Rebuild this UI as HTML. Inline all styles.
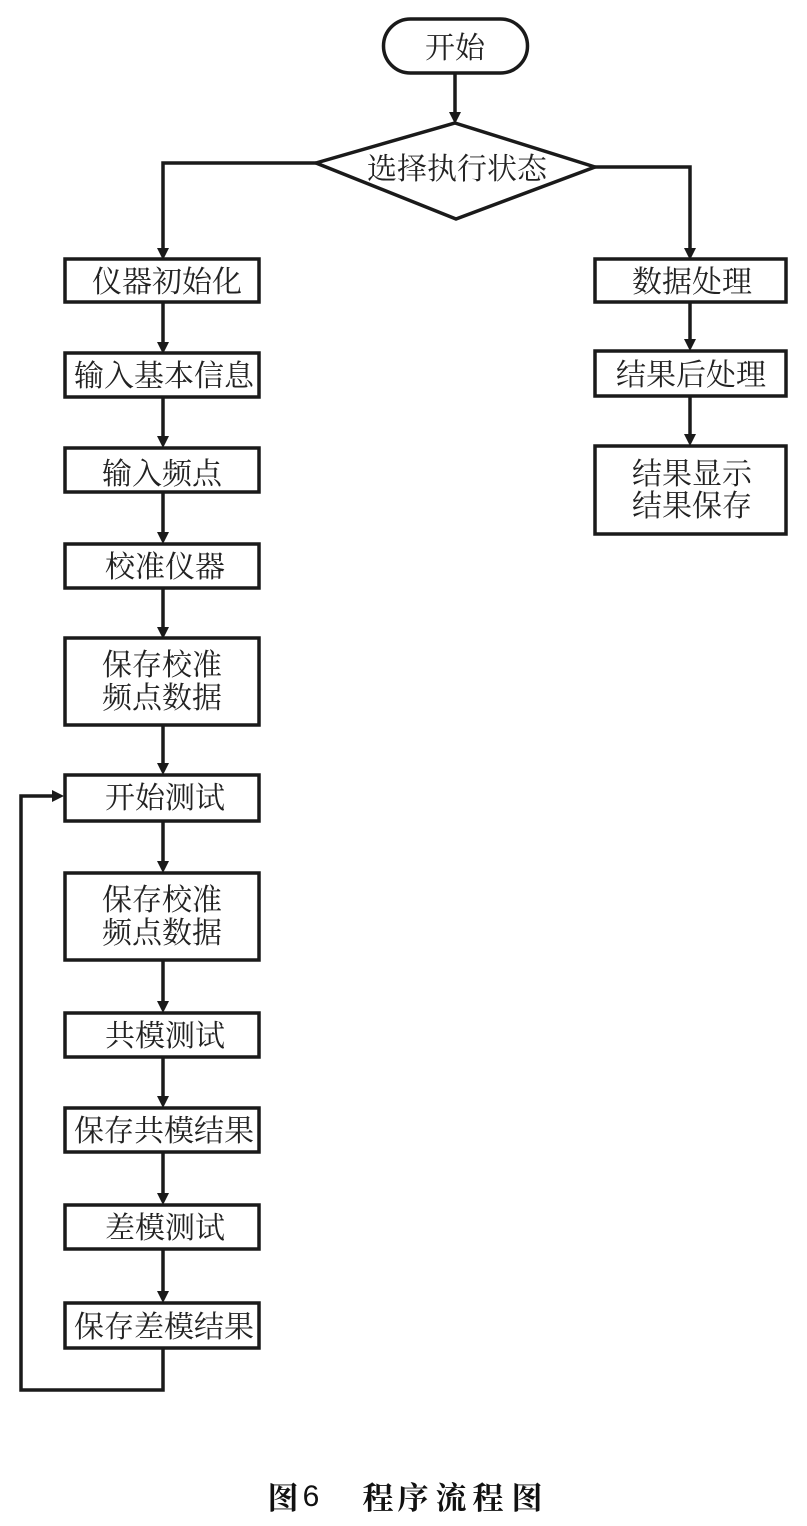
<!DOCTYPE html>
<html><head><meta charset="utf-8"><style>
html,body{margin:0;padding:0;background:#fff}
svg{display:block;filter:blur(.35px)}
text{font-family:"Liberation Serif","Noto Serif CJK SC",serif;fill:#222;text-anchor:middle;font-size:30px}
.b{fill:#fff;stroke:#1a1a1a;stroke-width:3.5}
.l{fill:none;stroke:#1a1a1a;stroke-width:3.5}
.a{fill:#1a1a1a;stroke:none}
.c{font-family:"Liberation Serif","Noto Serif CJK SC",serif;font-weight:700;font-size:31px;fill:#111}
.d{font-family:"Liberation Sans",sans-serif;font-weight:400;font-size:30px;fill:#111}
</style></head><body>
<svg width="807" height="1526" viewBox="0 0 807 1526" xmlns="http://www.w3.org/2000/svg">
<rect x="383.5" y="19" width="144" height="54" rx="27" class="b"/>
<text x="455" y="58">开始</text>
<path class="l" d="M455 73V114"/><path class="a" d="M449 112h12l-6 12z"/>
<path class="l" d="M316 163H163V250"/><path class="a" d="M157 248h12l-6 12z"/>
<path class="l" d="M595 167H690V250"/><path class="a" d="M684 248h12l-6 12z"/>
<polygon class="b" points="455,123 595,167 456,219 316,163"/>
<text x="457" y="179">选择执行状态</text>
<rect x="65" y="259" width="194" height="43" class="b"/><text x="167" y="292">仪器初始化</text>
<path class="l" d="M163 302V344"/><path class="a" d="M157 342h12l-6 12z"/>
<rect x="65" y="353" width="194" height="44" class="b"/><text x="164" y="386">输入基本信息</text>
<path class="l" d="M163 397V438"/><path class="a" d="M157 436h12l-6 12z"/>
<rect x="65" y="448" width="194" height="44" class="b"/><text x="162" y="484">输入频点</text>
<path class="l" d="M163 492V534"/><path class="a" d="M157 532h12l-6 12z"/>
<rect x="65" y="544" width="194" height="44" class="b"/><text x="165" y="577">校准仪器</text>
<path class="l" d="M163 588V629"/><path class="a" d="M157 627h12l-6 12z"/>
<rect x="65" y="638" width="194" height="87" class="b"/><text x="162" y="675">保存校准</text><text x="162" y="708">频点数据</text>
<path class="l" d="M163 725V765"/><path class="a" d="M157 763h12l-6 12z"/>
<rect x="65" y="775" width="194" height="46" class="b"/><text x="165" y="808">开始测试</text>
<path class="l" d="M163 821V863"/><path class="a" d="M157 861h12l-6 12z"/>
<rect x="65" y="873" width="194" height="87" class="b"/><text x="162" y="910">保存校准</text><text x="162" y="943">频点数据</text>
<path class="l" d="M163 960V1003"/><path class="a" d="M157 1001h12l-6 12z"/>
<rect x="65" y="1013" width="194" height="44" class="b"/><text x="165" y="1046">共模测试</text>
<path class="l" d="M163 1057V1098"/><path class="a" d="M157 1096h12l-6 12z"/>
<rect x="65" y="1108" width="194" height="44" class="b"/><text x="164" y="1141">保存共模结果</text>
<path class="l" d="M163 1152V1195"/><path class="a" d="M157 1193h12l-6 12z"/>
<rect x="65" y="1205" width="194" height="44" class="b"/><text x="165" y="1238">差模测试</text>
<path class="l" d="M163 1249V1293"/><path class="a" d="M157 1291h12l-6 12z"/>
<rect x="65" y="1303" width="194" height="45" class="b"/><text x="164" y="1337">保存差模结果</text>
<path class="l" d="M163 1348V1390H21V796H54"/><path class="a" d="M52 790l12 6-12 6z"/>
<rect x="595" y="259" width="191" height="43" class="b"/><text x="692" y="292">数据处理</text>
<path class="l" d="M690 302V341"/><path class="a" d="M684 339h12l-6 12z"/>
<rect x="595" y="351" width="191" height="45" class="b"/><text x="691" y="385">结果后处理</text>
<path class="l" d="M690 396V436"/><path class="a" d="M684 434h12l-6 12z"/>
<rect x="595" y="446" width="191" height="88" class="b"/><text x="692" y="484">结果显示</text><text x="692" y="516">结果保存</text>
<text class="c" x="283" y="1509">图</text>
<text class="d" x="311" y="1506">6</text>
<text class="c" x="378" y="1509">程</text>
<text class="c" x="413" y="1509">序</text>
<text class="c" x="451" y="1509">流</text>
<text class="c" x="488" y="1509">程</text>
<text class="c" x="527" y="1509">图</text>
</svg>
</body></html>
